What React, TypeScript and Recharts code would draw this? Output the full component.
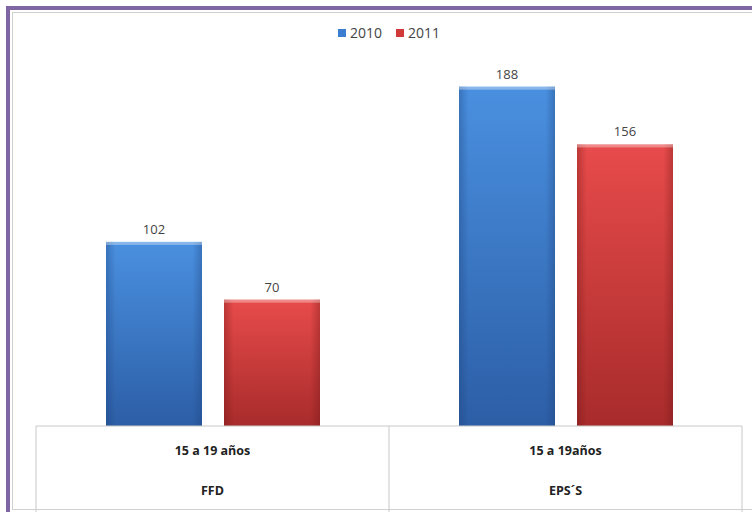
import { Bar, BarChart, LabelList, Legend, XAxis, YAxis } from 'recharts'

const groups = ['15 a 19 años', '15 a 19años']
const sources = ['FFD', 'EPS´S']
const y2010 = [102, 188]
const y2011 = [70, 156]
const seriesNames = ['2010', '2011']

const data = groups.map((g, i) => ({ key: i, group: g, source: sources[i], v2010: y2010[i], v2011: y2011[i] }))

const FONT = '"Open Sans", "Liberation Sans", sans-serif'

function TableTick(props: any) {
  const { x, y, payload, index } = props
  const half = payload?.offset ?? 176.5
  const d = data[payload.value] ?? data[index]
  return (
    <g>
      <line x1={x - half} x2={x - half} y1={y} y2={y + 86} stroke="#c8c8c8" />
      {index === data.length - 1 && <line x1={x + half} x2={x + half} y1={y} y2={y + 86} stroke="#c8c8c8" />}
      <text x={x} y={y + 29} textAnchor="middle" fontFamily={FONT} fontWeight={700} fontSize={12.5} fill="#222">
        {d.group}
      </text>
      <text x={x} y={y + 69} textAnchor="middle" fontFamily={FONT} fontWeight={700} fontSize={12.5} fill="#222">
        {d.source}
      </text>
    </g>
  )
}

function GlossyBar(props: any) {
  const { x, y, width, height, gradId } = props
  if (!height || height <= 0) return null
  return (
    <g>
      <rect x={x} y={y} width={width} height={height} fill={`url(#${gradId}-v)`} />
      <rect x={x} y={y} width={width} height={height} fill={`url(#${gradId}-h)`} />
      <rect x={x} y={y} width={width} height={3} fill="#ffffff" opacity={0.35} />
    </g>
  )
}

function LegendContent() {
  const colors = ['#3b7dd0', '#d23a3a']
  return (
    <div style={{ display: 'flex', justifyContent: 'center', gap: 14, fontFamily: FONT, fontSize: 14, color: '#444' }}>
      {seriesNames.map((n, i) => (
        <span key={n} style={{ display: 'flex', alignItems: 'center', gap: 4 }}>
          <span style={{ display: 'inline-block', width: 8, height: 8, background: colors[i] }} />
          {n}
        </span>
      ))}
    </div>
  )
}

export default function App() {
  return (
    <div style={{ position: 'absolute', left: 0, top: 0, width: 752, height: 512, background: '#fff', overflow: 'hidden' }}>
      <div style={{ position: 'absolute', left: 6, top: 6, width: 760, height: 520, border: '4px solid #8065a3', boxSizing: 'border-box' }} />
      <div style={{ position: 'absolute', left: 12, top: 12, width: 760, height: 498, border: '1px solid #d0d0d0', boxSizing: 'border-box' }} />
      <div style={{ position: 'absolute', left: 0, top: 0 }}>
        <BarChart width={752} height={512} data={data} margin={{ top: 43, right: 10, bottom: 0, left: 36 }} barSize={96} barGap={22}>
          <defs>
            <linearGradient id="blue-v" x1="0" y1="0" x2="0" y2="1">
              <stop offset="0%" stopColor="#4a90e0" />
              <stop offset="100%" stopColor="#2c5ea6" />
            </linearGradient>
            <linearGradient id="blue-h" x1="0" y1="0" x2="1" y2="0">
              <stop offset="0%" stopColor="#1c3f78" stopOpacity={0.35} />
              <stop offset="10%" stopColor="#1c3f78" stopOpacity={0} />
              <stop offset="90%" stopColor="#1c3f78" stopOpacity={0} />
              <stop offset="100%" stopColor="#1c3f78" stopOpacity={0.35} />
            </linearGradient>
            <linearGradient id="red-v" x1="0" y1="0" x2="0" y2="1">
              <stop offset="0%" stopColor="#e84b4b" />
              <stop offset="100%" stopColor="#a82b2b" />
            </linearGradient>
            <linearGradient id="red-h" x1="0" y1="0" x2="1" y2="0">
              <stop offset="0%" stopColor="#6e1515" stopOpacity={0.35} />
              <stop offset="10%" stopColor="#6e1515" stopOpacity={0} />
              <stop offset="90%" stopColor="#6e1515" stopOpacity={0} />
              <stop offset="100%" stopColor="#6e1515" stopOpacity={0.35} />
            </linearGradient>
          </defs>
          <Legend verticalAlign="top" height={22} content={<LegendContent />} wrapperStyle={{ top: 23 }} />
          <XAxis dataKey="key" height={86} tickSize={0} tickMargin={0} interval={0} axisLine={{ stroke: '#c8c8c8' }} tickLine={false} tick={<TableTick />} />
          <YAxis hide domain={[0, 200]} />
          <Bar dataKey="v2010" name={seriesNames[0]} isAnimationActive={false} shape={<GlossyBar gradId="blue" />}>
            <LabelList dataKey="v2010" position="top" offset={8} fontFamily={FONT} fontSize={13} fill="#444" />
          </Bar>
          <Bar dataKey="v2011" name={seriesNames[1]} isAnimationActive={false} shape={<GlossyBar gradId="red" />}>
            <LabelList dataKey="v2011" position="top" offset={8} fontFamily={FONT} fontSize={13} fill="#444" />
          </Bar>
        </BarChart>
      </div>
    </div>
  )
}
